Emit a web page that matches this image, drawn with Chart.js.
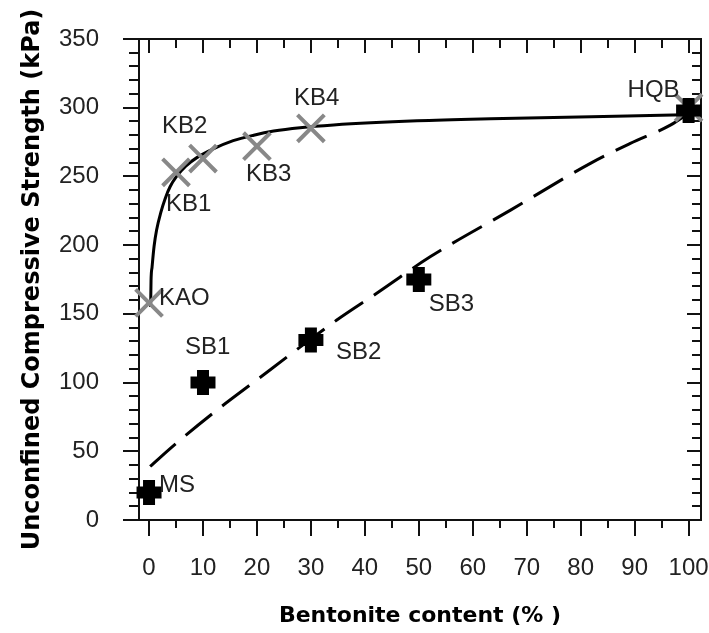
<!DOCTYPE html>
<html>
<head>
<meta charset="utf-8">
<script src="https://cdn.jsdelivr.net/npm/chart.js@4.4.1/dist/chart.umd.min.js"></script>
<style>
  html, body { margin: 0; padding: 0; background: #fff; }
  #wrap { width: 709px; height: 633px; }
</style>
</head>
<body>
<div id="wrap"><canvas id="chart"></canvas></div>
<script>
// campioni caolino + bentonite (croci grigie)
const kbNames = ["KAO", "KB1", "KB2", "KB3", "KB4", "HQB"];
const kbX = [0, 5, 10, 20, 30, 100];
const kbY = [158, 253, 263, 272, 285, 300];

// campioni sabbia + bentonite (croci nere)
const sbNames = ["MS", "SB1", "SB2", "SB3", "HQB"];
const sbX = [0, 10, 30, 50, 100];
const sbY = [20, 100, 131, 175, 298];

// curva continua
const fitKbX = [0.3, 0.37, 0.56, 0.93, 1.4, 2.2, 3.0, 3.9, 5.1, 6.8, 8.8, 11.9, 15.6, 19.4, 23.1, 28, 34.2, 49.7, 63.3, 88.6, 102.2];
const fitKbY = [155, 174, 184, 199, 211, 224, 234, 242.5, 250, 257.5, 263.5, 270, 276, 280, 283, 285.5, 287.5, 290.5, 292, 294, 295];

// curva tratteggiata
const fitSbX = [0.2, 5.1, 12.6, 20, 27.4, 34.8, 42.2, 52.1, 67, 81.8, 89.2, 96.7, 100];
const fitSbY = [39, 56, 80, 102, 124, 145.5, 165, 191.5, 225.5, 259.5, 274, 287.5, 296];

const xTicks = [0, 10, 20, 30, 40, 50, 60, 70, 80, 90, 100];
const yTicks = [0, 50, 100, 150, 200, 250, 300, 350];

function punti(xs, ys) {
    return xs.map((x, i) => ({ x: x, y: ys[i] }));
}

// cornice e tacche (maggiori e minori) come nel grafico originale
const assiPlugin = {
    id: "assi",
    beforeDatasetsDraw(chart) {
        const { ctx, chartArea: a, scales: { x, y } } = chart;
        ctx.save();
        ctx.strokeStyle = "#111";
        ctx.lineWidth = 2;
        ctx.strokeRect(a.left, a.top, a.right - a.left, a.bottom - a.top);
        ctx.beginPath();
        for (let v = 0; v <= 100; v += 5) {
            const px = Math.round(x.getPixelForValue(v));
            const major = v % 10 === 0;
            ctx.moveTo(px, a.bottom); ctx.lineTo(px, a.bottom + (major ? 16 : 8));
            ctx.moveTo(px, a.top); ctx.lineTo(px, a.top + (major ? 14 : 9));
        }
        for (let v = 0; v <= 350; v += 10) {
            const py = Math.round(y.getPixelForValue(v));
            const major = v % 50 === 0;
            ctx.moveTo(a.left, py); ctx.lineTo(a.left - (major ? 16 : 10), py);
            ctx.moveTo(a.right, py); ctx.lineTo(a.right - (major ? 14 : 9), py);
        }
        ctx.stroke();
        ctx.restore();
    }
};

// etichette dei campioni accanto ai punti
const labelOffsets = {
    KAO: [10, -4], KB1: [-10, 32], KB2: [-41, -32], KB3: [-11, 28], KB4: [-17, -30], HQB: [-61, -20],
    MS: [10, -7], SB1: [-18, -35], SB2: [25, 12], SB3: [10, 25]
};

const etichettePlugin = {
    id: "etichette",
    afterDatasetsDraw(chart) {
        const ctx = chart.ctx;
        ctx.save();
        ctx.font = "24px 'Liberation Sans', Arial, sans-serif";
        ctx.fillStyle = "#222";
        ctx.textAlign = "left";
        ctx.textBaseline = "middle";
        const fatti = new Set();
        chart.data.datasets.forEach((ds, i) => {
            if (!ds.nomi) return;
            chart.getDatasetMeta(i).data.forEach((el, j) => {
                const nome = ds.nomi[j];
                if (fatti.has(nome)) return;
                fatti.add(nome);
                const off = labelOffsets[nome];
                ctx.fillText(nome, el.x + off[0], el.y + off[1]);
            });
        });
        ctx.restore();
    }
};

const tickFont = { family: "'Liberation Sans', Arial, sans-serif", size: 24 };

new Chart(document.getElementById("chart"), {
    type: "scatter",
    data: {
        datasets: [
            {
                label: "SB", nomi: sbNames, data: punti(sbX, sbY), order: 0,
                pointStyle: "cross", pointRadius: 12.5, pointBorderWidth: 12,
                pointBorderColor: "#000", pointBackgroundColor: "#000", showLine: false
            },
            {
                label: "KB", nomi: kbNames, data: punti(kbX, kbY), order: 1,
                pointStyle: "crossRot", pointRadius: 19, pointBorderWidth: 4,
                pointBorderColor: "#888", pointBackgroundColor: "#888", showLine: false
            },
            {
                label: "fit KB", data: punti(fitKbX, fitKbY), order: 2,
                showLine: true, pointRadius: 0, borderColor: "#000", borderWidth: 3,
                cubicInterpolationMode: "monotone"
            },
            {
                label: "fit SB", data: punti(fitSbX, fitSbY), order: 3,
                showLine: true, pointRadius: 0, borderColor: "#000", borderWidth: 3,
                borderDash: [34, 13], cubicInterpolationMode: "monotone"
            }
        ]
    },
    options: {
        responsive: true,
        maintainAspectRatio: false,
        animation: false,
        clip: false,
        layout: { autoPadding: false, padding: { left: 0, top: 39, right: 8, bottom: 0 } },
        plugins: { legend: { display: false }, tooltip: { enabled: false } },
        scales: {
            x: {
                type: "linear", min: -1.86, max: 102.3,
                grid: { display: false }, border: { display: false },
                afterBuildTicks: s => { s.ticks = xTicks.map(v => ({ value: v })); },
                afterFit: s => { s.height = 113; s.paddingLeft = 0; s.paddingRight = 0; },
                ticks: { font: tickFont, color: "#222", padding: 26, maxRotation: 0, autoSkip: false },
                title: {
                    display: true, text: "Bentonite content (% )", color: "#000",
                    font: { family: "'DejaVu Sans', sans-serif", size: 22, weight: "bold" },
                    padding: { top: 0, bottom: 4 }
                }
            },
            y: {
                type: "linear", min: 0, max: 350,
                grid: { display: false }, border: { display: false },
                afterBuildTicks: s => { s.ticks = yTicks.map(v => ({ value: v })); },
                afterFit: s => { s.width = 139; s.paddingTop = 0; s.paddingBottom = 0; },
                ticks: { font: tickFont, color: "#222", padding: 32 },
                title: {
                    display: true, text: "Unconfined Compressive Strength (kPa)", color: "#000",
                    font: { family: "'DejaVu Sans', sans-serif", size: 24, weight: "bold" },
                    padding: { top: 18, bottom: 0 }
                }
            }
        }
    },
    plugins: [assiPlugin, etichettePlugin]
});
</script>
</body>
</html>
